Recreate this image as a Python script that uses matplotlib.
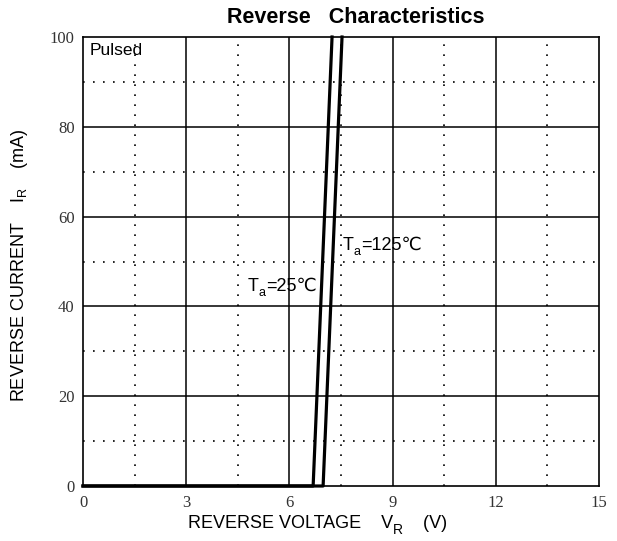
import matplotlib
matplotlib.use("Agg")
import matplotlib.pyplot as plt
import numpy as np

# Data
v_25 = [0.0, 6.69, 7.24]
i_25 = [0.0, 0.0, 100.0]
v_125 = [0.0, 6.98, 7.53]
i_125 = [0.0, 0.0, 100.0]

x_ticks = [0, 3, 6, 9, 12, 15]
y_ticks = [0, 20, 40, 60, 80, 100]
x_minor = [1.5, 4.5, 7.5, 10.5, 13.5]
y_minor = [10, 30, 50, 70, 90]

sans = ['Liberation Sans', 'DejaVu Sans']
serif = ['Liberation Serif', 'DejaVu Serif']

W, H = 617, 541
fig = plt.figure(figsize=(W / 100, H / 100), dpi=100)
ax = fig.add_axes([83 / W, 1 - 486 / H, (599 - 83) / W, (486 - 37) / H])
ax.set_xlim(0, 15)
ax.set_ylim(0, 100)

for x in x_ticks[1:-1]:
    ax.axvline(x, color='black', lw=1.1, zorder=1)
for y in y_ticks[1:-1]:
    ax.axhline(y, color='black', lw=1.1, zorder=1)
for x in x_minor:
    ax.axvline(x, color='black', lw=1.2, ls=(0, (1, 5)), zorder=1)
for y in y_minor:
    ax.axhline(y, color='black', lw=1.2, ls=(0, (1, 5)), zorder=1)

ax.plot(v_25, i_25, color='black', lw=2.3, zorder=3, clip_on=False)
ax.plot(v_125, i_125, color='black', lw=2.3, zorder=3, clip_on=False)

for s in ax.spines.values():
    s.set_linewidth(1.2)

ax.set_xticks(x_ticks)
ax.set_yticks(y_ticks)
ax.tick_params(length=0)
ax.tick_params(axis='x', pad=6.5)
ax.tick_params(axis='y', pad=6)
for lab in ax.get_xticklabels() + ax.get_yticklabels():
    lab.set_family(serif)
    lab.set_fontsize(12)
    lab.set_color('#333333')

renderer = fig.canvas.get_renderer()


def seq_text(px, py, segments):
    """Place text segments left to right starting at pixel (px, py baseline)."""
    x = px
    for txt, size, dy in segments:
        t = fig.text(x / W, 1 - (py + dy) / H, txt, family=sans, fontsize=size,
                     ha='left', va='baseline')
        bb = t.get_window_extent(renderer)
        x += bb.width


ax.text(0.2, 98.7, 'Pulsed', family=sans, fontsize=12.5, va='top', ha='left')

seq_text(248, 291, [('T', 13, 0), ('a', 9, 5), ('=25℃', 13, 0)])
seq_text(343, 250, [('T', 13, 0), ('a', 9, 5), ('=125℃', 13, 0)])

fig.text(356 / W, 1 - 17.5 / H, 'Reverse   Characteristics', family=sans, fontsize=15.5,
         fontweight='bold', ha='center', va='center')

# x label
seq_text(188, 528, [('REVERSE VOLTAGE    V', 13, 0), ('R', 10, 6), ('    (V)', 13, 0)])

fig.text(20 / W, 1 - 265 / H, r'REVERSE CURRENT    I$_{\mathregular{R}}$    (mA)', family=sans,
         fontsize=13, ha='center', va='center', rotation=90)

fig.savefig('out.png', dpi=100)
